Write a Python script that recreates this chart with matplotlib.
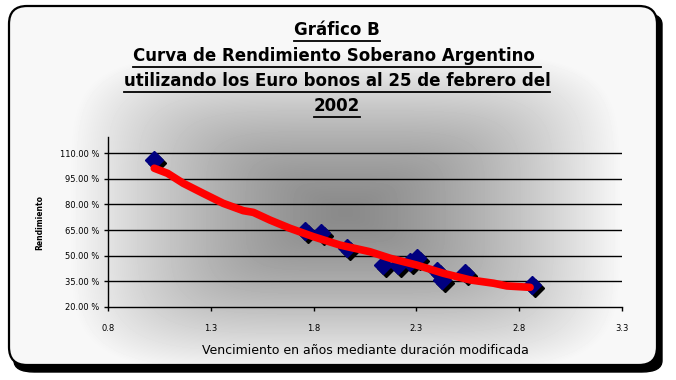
import numpy as np
import matplotlib
matplotlib.use("Agg")
import matplotlib.pyplot as plt
from matplotlib.patches import FancyBboxPatch
from matplotlib.lines import Line2D
from matplotlib.ticker import FuncFormatter
import matplotlib.transforms as mtransforms

# bonos: duracion modificada (anios) y rendimiento
duracion = [1.024, 1.758, 1.836, 1.962, 2.138, 2.210, 2.269, 2.303, 2.400, 2.425, 2.536, 2.862]
rendimiento = [1.059, 0.644, 0.633, 0.545, 0.445, 0.445, 0.463, 0.486, 0.410, 0.360, 0.399, 0.329]

# linea de tendencia
tend_x = [1.025, 1.09, 1.166, 1.263, 1.36, 1.458, 1.507, 1.588, 1.685, 1.799, 1.928,
          2.074, 2.172, 2.302, 2.431, 2.562, 2.675, 2.74, 2.853]
tend_y = [1.011, 0.981, 0.923, 0.864, 0.806, 0.763, 0.753, 0.708, 0.660, 0.611, 0.562,
          0.523, 0.485, 0.445, 0.397, 0.358, 0.339, 0.323, 0.315]

x_ticks = [0.8, 1.3, 1.8, 2.3, 2.8, 3.3]
y_ticks = [0.20, 0.35, 0.50, 0.65, 0.80, 0.95, 1.10]

titulo = ["Gráfico B",
          "Curva de Rendimiento Soberano Argentino ",
          "utilizando los Euro bonos al 25 de febrero del",
          "2002"]

W, H = 676, 380
fig = plt.figure(figsize=(W / 100, H / 100), dpi=100)
fig.patch.set_facecolor("white")


def fx(px):
    return px / W


def fy(py):
    return 1 - py / H


# marco redondeado con sombra
x0, y0, x1, y1 = 9, 6, 657, 365
sombra = FancyBboxPatch((fx(x0 + 5), fy(y1 + 7)), fx(x1 - x0), (y1 - y0) / H,
                        boxstyle="round,pad=0,rounding_size=0.03",
                        transform=fig.transFigure, facecolor="black",
                        edgecolor="black", zorder=0)
fig.patches.append(sombra)

bg = fig.add_axes([0, 0, 1, 1], zorder=1)
bg.set_xlim(0, W)
bg.set_ylim(H, 0)
bg.axis("off")

# degradado desde el centro
gx, gy = np.meshgrid(np.arange(W), np.arange(H))
dx = np.abs(gx - 345) / 275.0
dy = np.abs(gy - 212) / 160.0
d = (dx ** 5 + dy ** 5) ** (1 / 5.0)
val = 0.54 + 0.43 * np.clip(d, 0, 1) ** 1.4
img = bg.imshow(val, cmap="gray", vmin=0, vmax=1, extent=(0, W, H, 0),
                interpolation="bilinear", zorder=1)
marco = FancyBboxPatch((x0, y0), x1 - x0, y1 - y0,
                       boxstyle="round,pad=0,rounding_size=18",
                       facecolor="none", edgecolor="black", linewidth=1.6, zorder=2)
bg.add_patch(marco)
img.set_clip_path(marco)

# area del grafico
ax = fig.add_axes([fx(108), fy(307), fx(622 - 108), (307 - 137) / H], zorder=2)
ax.patch.set_alpha(0)
ax.set_xlim(0.8, 3.3)
ax.set_ylim(0.20, 0.20 + 170 / 154 * 0.90)
for s in ["top", "right"]:
    ax.spines[s].set_visible(False)
ax.spines["left"].set_linewidth(1.0)
ax.spines["bottom"].set_linewidth(1.0)
ax.set_xticks(x_ticks)
ax.set_yticks(y_ticks)
ax.xaxis.set_major_formatter(FuncFormatter(lambda v, p: "%.1f" % v))
ax.yaxis.set_major_formatter(FuncFormatter(lambda v, p: "%.2f %%" % (v * 100)))
ax.tick_params(axis="both", labelsize=6, length=3, width=1.0, direction="out")
ax.tick_params(axis="x", pad=9)
ax.tick_params(axis="y", pad=3)
for v in y_ticks[1:]:
    ax.axhline(v, color="black", linewidth=1.0, zorder=1)

sh = mtransforms.offset_copy(ax.transData, fig=fig, x=3, y=-3, units="dots")
ax.plot(duracion, rendimiento, linestyle="none", marker="D", markersize=9.5,
        color="black", transform=sh, zorder=2)
ax.plot(duracion, rendimiento, linestyle="none", marker="D", markersize=9.5,
        color="#000080", zorder=3)
ax.plot(tend_x, tend_y, color="#ff0000", linewidth=5.5, solid_capstyle="round",
        solid_joinstyle="round", zorder=4)

ax.set_xlabel("Vencimiento en años mediante duración modificada", fontsize=9,
              labelpad=8)
fig.text(fx(40), fy(222), "Rendimiento", rotation=90, fontsize=5.5,
         fontweight="bold", ha="center", va="center", zorder=3)

# titulo subrayado
renderer = fig.canvas.get_renderer()
ys = [30, 56, 81, 106]
for t, py in zip(titulo, ys):
    txt = fig.text(fx(337), fy(py), t, fontsize=12, fontweight="bold",
                   ha="center", va="center", zorder=3)
    bb = txt.get_window_extent(renderer)
    uy = bb.y0 - 2
    fig.add_artist(Line2D([bb.x0, bb.x1], [uy, uy], transform=None,
                          color="black", linewidth=1.3, zorder=3))

fig.savefig("out.png", dpi=100, facecolor="white")
